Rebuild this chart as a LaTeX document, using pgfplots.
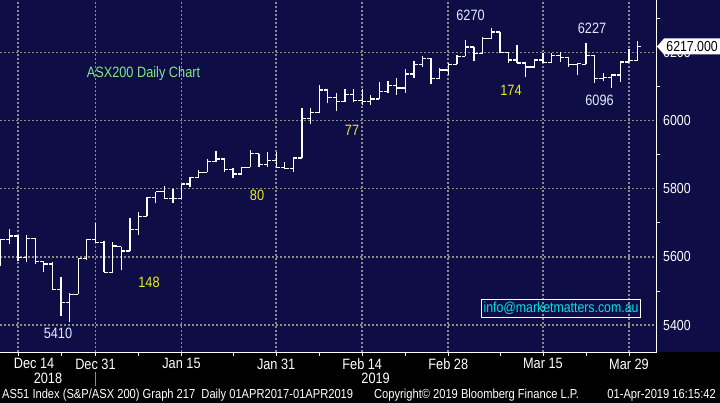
\documentclass[border=0pt]{standalone}
\usepackage{fontspec}
\setmainfont{Liberation Sans}[FakeStretch=0.85]
\usepackage{pgfplots}
\usepackage{pgfplotstable}
\pgfplotsset{compat=1.18}

\definecolor{bbnavy}{RGB}{14,13,70}
\definecolor{bbgrid}{RGB}{140,140,140}
\definecolor{bbyellow}{RGB}{232,236,30}
\definecolor{bbgreen}{RGB}{130,232,130}
\definecolor{bblabel}{RGB}{225,235,255}
\definecolor{bbcyan}{RGB}{0,228,228}

\newcommand\fs[1]{\fontsize{#1}{#1}\selectfont}

% ASX200 daily bars, i = trading day (0 = 14 Dec 2018)
\pgfplotstableread{
i  o    h    l    c
-2 5590 5651 5573 5650
-1 5651 5682 5637 5661
0  5661 5664 5589 5599
1  5599 5664 5586 5654
2  5654 5654 5579 5587
3  5587 5587 5555 5579
4  5579 5584 5505 5505
5  5505 5540 5427 5467
6  5467 5493 5410 5490
7  5490 5596 5490 5596
8  5596 5651 5591 5651
9  5651 5698 5643 5643
10 5643 5647 5555 5555
11 5555 5643 5555 5632
12 5630 5630 5560 5617
13 5617 5713 5617 5681
14 5681 5731 5665 5719
15 5719 5777 5719 5775
16 5775 5791 5757 5791
17 5791 5808 5772 5772
18 5772 5798 5757 5772
19 5772 5814 5772 5814
20 5814 5833 5804 5833
21 5833 5855 5831 5848
22 5848 5886 5848 5879
23 5879 5910 5877 5887
24 5887 5887 5850 5857
25 5857 5860 5830 5843
26 5843 5863 5840 5863
27 5863 5912 5863 5903
28 5903 5903 5863 5871
29 5871 5909 5864 5883
30 5883 5908 5863 5863
31 5863 5877 5857 5860
32 5860 5894 5848 5890
33 5890 6036 5890 6005
34 6005 6038 5991 6023
35 6023 6103 6023 6089
36 6089 6089 6052 6068
37 6068 6082 6028 6056
38 6056 6092 6053 6076
39 6076 6092 6053 6058
40 6058 6092 6046 6055
41 6055 6075 6046 6063
42 6063 6112 6063 6086
43 6086 6116 6080 6102
44 6102 6124 6076 6095
45 6095 6150 6080 6136
46 6136 6174 6126 6165
47 6165 6189 6158 6182
48 6182 6182 6106 6124
49 6124 6153 6124 6148
50 6148 6170 6133 6165
51 6165 6191 6165 6188
52 6188 6237 6188 6216
53 6216 6216 6175 6197
54 6197 6245 6197 6240
55 6240 6270 6240 6260
56 6260 6260 6199 6199
57 6199 6199 6170 6177
58 6177 6221 6169 6169
59 6169 6169 6127 6157
60 6157 6177 6153 6177
61 6177 6199 6169 6170
62 6170 6197 6168 6190
63 6190 6202 6172 6185
64 6185 6185 6157 6164
65 6164 6168 6132 6168
66 6165 6227 6165 6191
67 6191 6191 6110 6124
68 6124 6139 6117 6127
69 6127 6135 6096 6133
70 6133 6172 6113 6172
71 6172 6210 6172 6175
72 6175 6233 6175 6217
}\ohlc

\begin{document}
\begin{tikzpicture}
\useasboundingbox (0,-51pt) rectangle (720pt,352pt);
\fill[black] (0,-51pt) rectangle (720pt,0);
\fill[bbnavy] (0,0) rectangle (720pt,352pt);
\begin{axis}[
  scale only axis, width=656.7pt, height=352pt,
  xmin=-2.092, xmax=74.22, ymin=5320.8, ymax=6353.4,
  axis x line*=bottom, axis y line*=right,
  axis line style={white, line width=1pt},
  clip=false,
  xtick={0,9,19,30,40,50,61,71},
  xticklabels={\hspace*{32pt}Dec 14,Dec 31,Jan 15,Jan 31,Feb 14,Feb 28,Mar 15,Mar 29},
  minor xtick={5,14,25,35,45,56,66},
  ytick={5400,5600,5800,6000,6200},
  yticklabels={5400,5600,5800,6000,6200},
  minor ytick={5500,5700,5900,6100,6300},
  tick align=outside,
  major tick length=4pt, minor tick length=3.5pt,
  tick style={white, line width=0.8pt},
  major y tick style={draw=none},
  grid=major,
  major grid style={bbgrid, line width=1.6pt, dash pattern=on 1.6pt off 2.4pt},
  tick label style={text=white},
  xticklabel style={font=\fs{15}, yshift=1pt},
  yticklabel style={font=\fs{14.5}, anchor=west, xshift=-1pt},
]
\addplot[white, line width=1.3pt, quiver={u=0, v=\thisrow{h}-\thisrow{l}}] table[x=i, y=l] {\ohlc};
\addplot[white, line width=1.3pt, quiver={u=-0.45, v=0}] table[x=i, y=o] {\ohlc};
\addplot[white, line width=1.3pt, quiver={u=0.45, v=0}] table[x=i, y=c] {\ohlc};
\pgfplotsinvokeforeach{5400,5600,5800,6000,6200}{
  \fill[white] (axis cs:74.22,#1) ++(0,3pt) -- ++(7pt,-3pt) -- ++(-7pt,-3pt) -- cycle;
}
\end{axis}
% last price tag
\fill[white] (657pt,305.5pt) -- (664pt,313.5pt) -- (720pt,313.5pt) -- (720pt,297.5pt) -- (664pt,297.5pt) -- cycle;
\node[anchor=east, inner sep=0pt, font=\fs{14.5}, text=black] at (718pt,305.5pt) {6217.000};
% annotations
\node[text=bbgreen, font=\fs{15}] at (143.5pt,278pt) {ASX200 Daily Chart};
\node[text=bblabel, font=\fs{15}] at (58pt,19pt) {5410};
\node[text=bblabel, font=\fs{15}] at (470.5pt,337pt) {6270};
\node[text=bblabel, font=\fs{15}] at (592pt,323.7pt) {6227};
\node[text=bblabel, font=\fs{15}] at (599.5pt,252pt) {6096};
\node[text=bbyellow, font=\fs{15}] at (149pt,70pt) {148};
\node[text=bbyellow, font=\fs{15}] at (257pt,157pt) {80};
\node[text=bbyellow, font=\fs{15}] at (352pt,221.3pt) {77};
\node[text=bbyellow, font=\fs{15}] at (511pt,262pt) {174};
\node[draw=white, line width=1pt, text=bbcyan, font=\fs{14.5}, minimum width=159pt, minimum height=18pt, inner sep=0pt] at (561pt,43.8pt) {info@marketmatters.com.au};
% years, separator and footer
\draw[bbgrid, line width=0.8pt] (95.5pt,-19.7pt) -- (95.5pt,-33.7pt);
\node[text=white, font=\fs{15}] at (48pt,-26pt) {2018};
\node[text=white, font=\fs{15}] at (375.6pt,-26pt) {2019};
\node[text=white, font=\fs{13.1}, anchor=west, inner sep=0pt] at (2pt,-43pt) {AS51 Index (S\&P/ASX 200) Graph 217\ \ Daily 01APR2017-01APR2019};
\node[text=white, font=\fs{13.1}, anchor=west, inner sep=0pt] at (374pt,-43pt) {Copyright© 2019 Bloomberg Finance L.P.};
\node[text=white, font=\fs{13.1}, anchor=east, inner sep=0pt] at (716pt,-43pt) {01-Apr-2019 16:15:42};
\end{tikzpicture}
\end{document}
